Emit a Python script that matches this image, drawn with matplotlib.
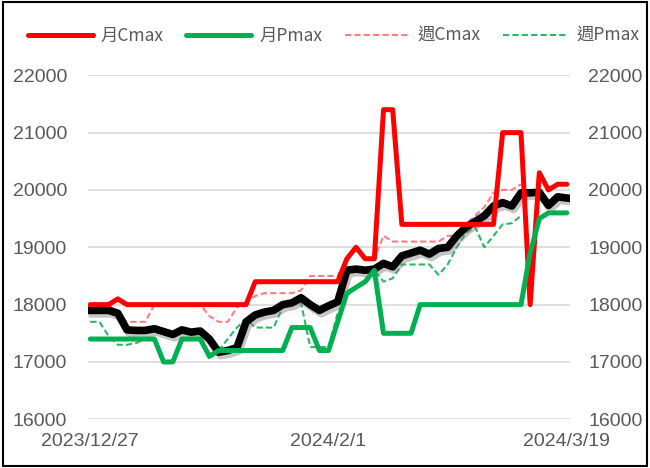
import matplotlib
matplotlib.use("Agg")
import numpy as np
import matplotlib.pyplot as plt
import matplotlib.patheffects as pe
from matplotlib.patches import Rectangle
from matplotlib.font_manager import FontProperties

nan = np.nan

# daily price (black, no legend entry)
price = [17900, 17900, 17900, 17850, 17560, 17550, 17550, 17580, 17530, 17480,
         17560, 17520, 17540, 17400, 17170, 17200, 17250, 17700, 17820, 17870,
         17900, 18000, 18030, 18120, 18000, 17900, 17980, 18050, 18600, 18620,
         18600, 18620, 18720, 18660, 18850, 18900, 18950, 18880, 18980, 19000,
         19200, 19350, 19450, 19550, 19720, 19780, 19720, 19950, 19950, 19960,
         19730, 19880, 19860]

month_cmax = [18000, 18000, 18000, 18100, 18000, 18000, 18000, 18000, 18000, 18000,
              18000, 18000, 18000, 18000, 18000, 18000, 18000, 18000, 18400, 18400,
              18400, 18400, 18400, 18400, 18400, 18400, 18400, 18400, 18800, 19000,
              18800, 18800, 21400, 21400, 19400, 19400, 19400, 19400, 19400, 19400,
              19400, 19400, 19400, 19400, 19400, 21000, 21000, 21000, 18000, 20300,
              20000, 20100, 20100]

month_pmax = [17400, 17400, 17400, 17400, 17400, 17400, 17400, 17400, 17000, 17000,
              17400, 17400, 17400, 17100, 17200, 17200, 17200, 17200, 17200, 17200,
              17200, 17200, 17600, 17600, 17600, 17200, 17200, 17700, 18200, 18300,
              18400, 18600, 17500, 17500, 17500, 17500, 18000, 18000, 18000, 18000,
              18000, 18000, 18000, 18000, 18000, 18000, 18000, 18000, 18900, 19500,
              19600, 19600, 19600]

week_cmax = [18000, 18000, 18000, 17850, 17700, 17700, 17700, 18000, 18000, 18000,
             18000, 18000, 18000, 17800, 17700, 17700, 17950, 18050, 18150, 18200,
             18200, 18200, 18200, 18250, 18500, 18500, 18500, 18500, 18800, 19000,
             18800, 18800, 19200, 19100, 19100, 19100, 19100, 19100, 19100, 19200,
             19200, 19400, 19550, 19700, 19950, 20000, 20000, 20100, nan, nan,
             nan, nan, nan]

week_pmax = [17700, 17700, 17450, 17300, 17300, 17330, 17400, 17400, 17000, 17000,
             17400, 17400, 17400, 17050, 17200, 17400, 17600, 17750, 17600, 17600,
             17600, 17950, 18000, 18030, 17260, 17260, 17260, 17850, 18150, 18300,
             18400, 18600, 18400, 18460, 18700, 18700, 18700, 18700, 18520, 18700,
             19000, 19250, 19350, 19000, 19200, 19400, 19420, 19550, nan, nan,
             nan, nan, nan]

tick_idx = [0, 26, 52]
tick_labels = ["2023/12/27", "2024/2/1", "2024/3/19"]
y_ticks = [16000, 17000, 18000, 19000, 20000, 21000, 22000]

plt.rcParams["font.family"] = ["Liberation Sans", "Noto Sans CJK TC", "DejaVu Sans"]
grey = "#595959"

fig = plt.figure(figsize=(6.5, 4.68), dpi=100)
ax = fig.add_axes([88 / 650, 1 - 419.3 / 468, (570 - 88) / 650, (419.3 - 75.3) / 468])
x = np.arange(len(price))

dash = (0, (3, 1.5))
ax.plot(x, week_cmax, color="#FF7C80", lw=1.5, ls=dash, zorder=2, label="週Cmax")
ax.plot(x, week_pmax, color="#2DB865", lw=1.5, ls=dash, zorder=2, label="週Pmax")
ax.plot(x, price, color="black", lw=5.5, zorder=3, solid_joinstyle="round",
        path_effects=[pe.SimpleLineShadow(offset=(1.5, -2.5), shadow_color="gray", alpha=0.45),
                      pe.Normal()])
ax.plot(x, month_cmax, color="#FF0000", lw=3.6, zorder=4, solid_joinstyle="round",
        solid_capstyle="round", label="月Cmax")
ax.plot(x, month_pmax, color="#00B050", lw=3.6, zorder=4, solid_joinstyle="round",
        solid_capstyle="round", label="月Pmax")

ax.set_xlim(-0.25, 52.35)
ax.set_ylim(16000, 22000)
ax.set_yticks(y_ticks)
ax.set_xticks(tick_idx, tick_labels)
ax.yaxis.grid(True, color="#D9D9D9", lw=1.2)
ax.set_axisbelow(True)
for s in ax.spines.values():
    s.set_visible(False)
ax.tick_params(axis="y", length=0, pad=15, labelsize=14, labelcolor=grey)
ax.tick_params(axis="x", length=0, pad=10, labelsize=14, labelcolor=grey)

ax2 = ax.twinx()
ax2.set_ylim(ax.get_ylim())
ax2.set_yticks(y_ticks)
for s in ax2.spines.values():
    s.set_visible(False)
ax2.tick_params(axis="y", length=0, pad=13, labelsize=14, labelcolor=grey)

handles, labels = ax.get_legend_handles_labels()
order = [2, 3, 0, 1]
leg = fig.legend([handles[i] for i in order], [labels[i] for i in order],
                 loc="center", bbox_to_anchor=(0.513, 0.923), ncol=4, frameon=False,
                 handlelength=3.75, handletextpad=0.45, columnspacing=1.3,
                 prop=FontProperties(family=["Noto Sans CJK TC", "DejaVu Sans"], size=12.5))
for t in leg.get_texts():
    t.set_color(grey)

fig.patches.append(Rectangle((0.004, 0.004), 0.992, 0.992, transform=fig.transFigure,
                             fill=False, ec="black", lw=1.5))

fig.savefig("out.png", dpi=100)
